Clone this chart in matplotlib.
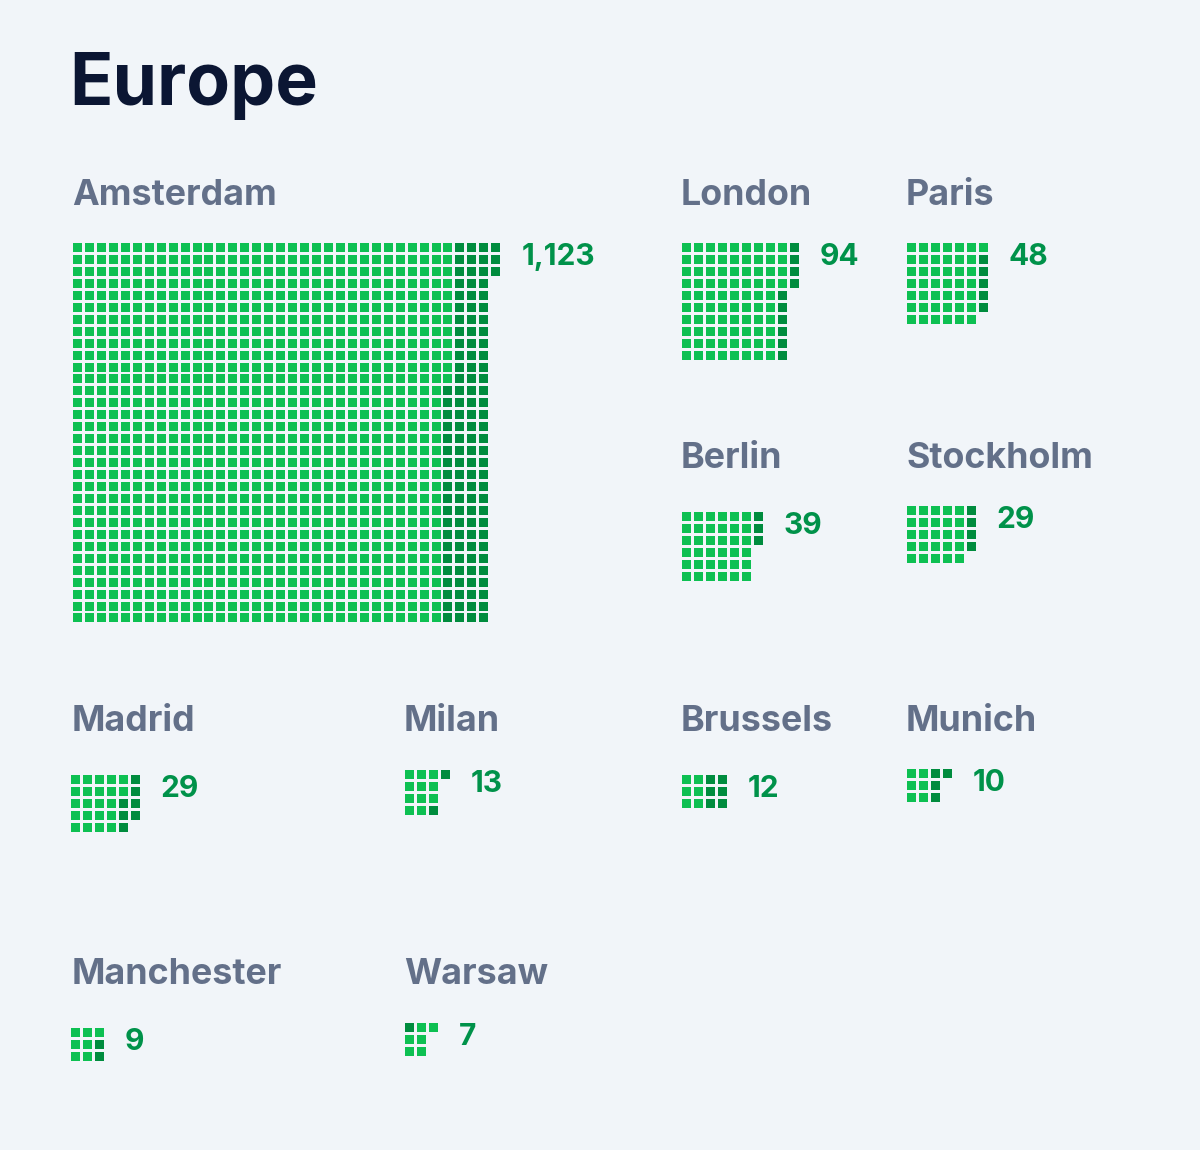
import math
import matplotlib
matplotlib.use("Agg")
import matplotlib.pyplot as plt
from matplotlib.patches import Rectangle
from matplotlib.collections import PatchCollection

# data
cities = ["Amsterdam", "London", "Paris", "Berlin", "Stockholm",
          "Madrid", "Milan", "Brussels", "Munich", "Manchester", "Warsaw"]
totals = [1123, 94, 48, 39, 29, 29, 13, 12, 10, 9, 7]
dark_counts = [119, 10, 5, 3, 4, 7, 2, 6, 4, 2, 1]
grid_rows = [32, 10, 7, 6, 5, 5, 4, 3, 3, 3, 3]
dark_first = [False] * 10 + [True]

# layout (pixels, y downwards)
waffle_xy = [(73, 243), (682, 243), (907, 243), (682, 512), (907, 506),
             (71, 775), (405, 770), (682, 775), (907, 769), (71, 1028), (405, 1023)]
label_xy = [(72, 205), (681, 205), (906, 205), (681, 468), (906, 468),
            (72, 731), (404, 731), (681, 731), (906, 731), (72, 984), (404, 984)]

BG = "#F1F5F9"
LIGHT = "#0DC052"
DARK = "#008C3E"
NUM = "#00924A"
LABEL = "#637089"
TITLE = "#0B1633"
FONT = ["Inter", "DejaVu Sans"]

pitch, size = 11.95, 9

fig = plt.figure(figsize=(12, 11.5), dpi=100, facecolor=BG)
ax = fig.add_axes([0, 0, 1, 1])
ax.set_xlim(0, 1200)
ax.set_ylim(1150, 0)
ax.axis("off")
ax.set_facecolor(BG)

ax.text(69, 105, "Europe", fontsize=51.5, fontweight="bold", color=TITLE,
        family=FONT, va="baseline", ha="left")

for k, city in enumerate(cities):
    n = totals[k]
    rows = grid_rows[k]
    cols = math.ceil(n / rows)
    x0, y0 = waffle_xy[k]
    light_sq, dark_sq = [], []
    for i in range(n):
        c, r = i // rows, i % rows
        rect = Rectangle((x0 + c * pitch, y0 + r * pitch), size, size)
        if dark_first[k]:
            is_dark = i < dark_counts[k]
        else:
            is_dark = i >= n - dark_counts[k]
        (dark_sq if is_dark else light_sq).append(rect)
    ax.add_collection(PatchCollection(light_sq, facecolor=LIGHT, edgecolor="none"))
    ax.add_collection(PatchCollection(dark_sq, facecolor=DARK, edgecolor="none"))

    lx, ly = label_xy[k]
    ax.text(lx, ly, city, fontsize=25.8, fontweight="bold", color=LABEL,
            family=FONT, va="baseline", ha="left")

    right = x0 + (cols - 1) * pitch + size
    ax.text(right + 21, y0 + 22, f"{n:,}", fontsize=21.5, fontweight="bold",
            color=NUM, family=FONT, va="baseline", ha="left")

fig.savefig("out.png", dpi=100, facecolor=BG)
